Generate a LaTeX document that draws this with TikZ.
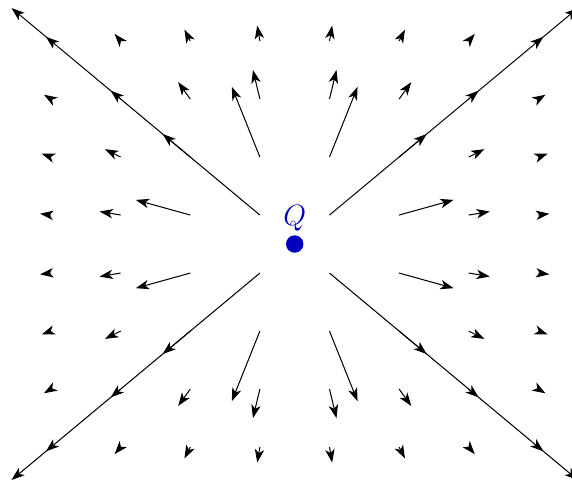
\documentclass[tikz,border=0pt]{standalone}
\usepackage{tikz}
\usetikzlibrary{arrows.meta,positioning}
\definecolor{chargeblue}{RGB}{0,0,190}

\begin{document}
\begin{tikzpicture}[
  field/.style={line width=0.5pt,-{Stealth[length=6.5pt,width=4.6pt,inset=1.8pt]}},
  charge/.style={circle,fill=chargeblue,inner sep=0pt,minimum size=0.3cm},
  lab/.style={text=chargeblue,font=\Large,inner sep=1pt}
]
\clip (-5.08,-4.155) rectangle (4.78,4.207);
% field vectors on the grid, E ~ r/|r|^3
\foreach \i in {-3.5,-2.5,...,3.5}{
  \foreach \j in {-3.5,-2.5,...,3.5}{
    \pgfmathsetmacro{\px}{1.2*\i}
    \pgfmathsetmacro{\rr}{(\px*\px+\j*\j)^1.5}
    \draw[field] (\px,\j) -- ++({3.4*\px/\rr},{3.4*\j/\rr});
  }
}
% the point charge
\node[charge] (Q) at (0,0) {};
\node[lab,above=0.03cm of Q] (qlab) {$Q$};
\end{tikzpicture}
\end{document}
